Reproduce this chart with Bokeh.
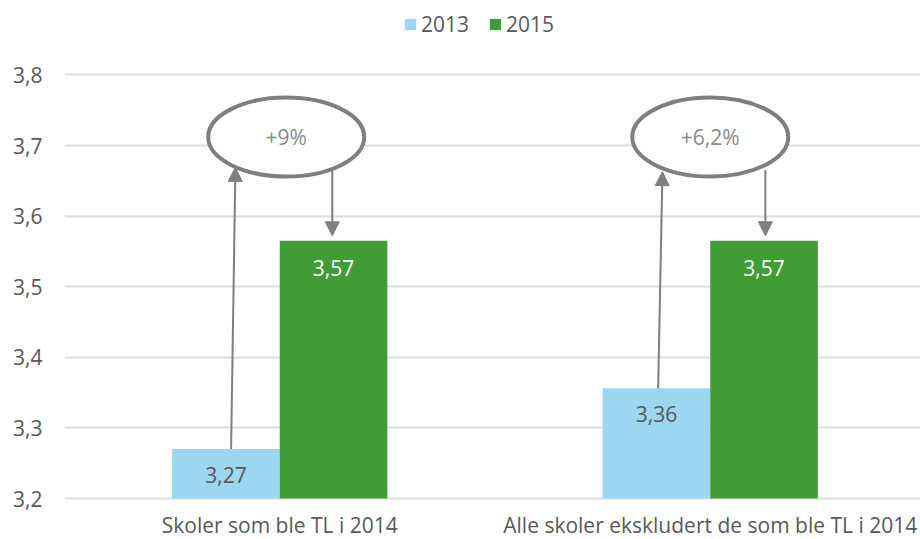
from bokeh.plotting import figure
from bokeh.models import Range1d, FixedTicker, Legend, LegendItem, Arrow, NormalHead, ColumnDataSource
from bokeh.transform import dodge
from bokeh.core.properties import value
from bokeh.embed import file_html
from bokeh.resources import INLINE

# ---- data ----
categories = ["Skoler som ble TL i 2014", "Alle skoler ekskludert de som ble TL i 2014"]
series = ["2013", "2015"]
values_2013 = [3.27, 3.356]
values_2015 = [3.565, 3.565]
labels_2013 = ["3,27", "3,36"]
labels_2015 = ["3,57", "3,57"]
changes = ["+9%", "+6,2%"]
y_ticks = [3.2, 3.3, 3.4, 3.5, 3.6, 3.7, 3.8]
y_tick_labels = ["3,2", "3,3", "3,4", "3,5", "3,6", "3,7", "3,8"]

# ---- layout / style ----
FONT = "Open Sans"
GREY = "#595959"
LINE_GREY = "#7f7f7f"
BLUE = "#9cd6f0"
GREEN = "#409d36"
FRAME_W, FRAME_H = 856, 510
PX_X = 430.5          # pixels per category
PX_Y = 706.0          # pixels per 1.0 on value axis
Y0 = y_ticks[0]
BAR_W = 0.25

x_centers = [i + 0.5 for i in range(len(categories))]

p = figure(width=920, height=539, frame_width=FRAME_W, frame_height=FRAME_H,
           output_backend="svg", toolbar_location=None,
           x_range=Range1d(0, FRAME_W / PX_X),
           y_range=Range1d(Y0 - 12 / PX_Y, Y0 + 498 / PX_Y),
           min_border_left=64, min_border_right=0, min_border_top=0, min_border_bottom=29)
p.outline_line_color = None
p.background_fill_color = "white"
p.border_fill_color = "white"

src = ColumnDataSource(dict(x=x_centers, v13=values_2013, v15=values_2015,
                            l13=labels_2013, l15=labels_2015, base=[Y0] * len(categories)))

r13 = p.vbar(x=dodge("x", -BAR_W / 2, range=p.x_range), top="v13", bottom="base", width=BAR_W,
             source=src, fill_color=BLUE, line_color=None)
r15 = p.vbar(x=dodge("x", BAR_W / 2, range=p.x_range), top="v15", bottom="base", width=BAR_W,
             source=src, fill_color=GREEN, line_color=None)

p.text(x=dodge("x", -BAR_W / 2, range=p.x_range), y="v13", text="l13", source=src,
       y_offset=26, text_align="center", text_baseline="middle",
       text_font=value(FONT), text_font_size="21px", text_color=GREY)
p.text(x=dodge("x", BAR_W / 2, range=p.x_range), y="v15", text="l15", source=src,
       y_offset=27, text_align="center", text_baseline="middle",
       text_font=value(FONT), text_font_size="21px", text_color="white")

# ---- ellipse call-outs ----
ell_dx = [0.015, 0.0]
ell_y = 3.712
ell_w = 156 / PX_X
ell_h = 79 / PX_Y
ell_src = ColumnDataSource(dict(x=[c + d for c, d in zip(x_centers, ell_dx)],
                                y=[ell_y] * len(categories), t=changes))
p.ellipse(x="x", y="y", width=ell_w, height=ell_h, source=ell_src,
          fill_color="white", line_color=LINE_GREY, line_width=4)
p.text(x="x", y="y", text="t", source=ell_src, text_align="center", text_baseline="middle",
       text_font=value(FONT), text_font_size="21px", text_color="#8a8a8a")

# ---- arrows ----
up_dx_bottom = [-0.113, -0.121]
up_dx_top = [-0.103, -0.111]
up_tip = [3.669, 3.663]
down_dx = [0.122, 0.128]
down_start = 3.665
for i, c in enumerate(x_centers):
    p.add_layout(Arrow(x_start=c + up_dx_bottom[i], y_start=values_2013[i],
                       x_end=c + up_dx_top[i], y_end=up_tip[i],
                       line_color=LINE_GREY, line_width=2,
                       end=NormalHead(size=14, fill_color=LINE_GREY, line_color=LINE_GREY)))
    p.add_layout(Arrow(x_start=c + down_dx[i], y_start=down_start,
                       x_end=c + down_dx[i], y_end=values_2015[i] + 5 / PX_Y,
                       line_color=LINE_GREY, line_width=2,
                       end=NormalHead(size=14, fill_color=LINE_GREY, line_color=LINE_GREY)))

# ---- axes ----
p.yaxis.ticker = FixedTicker(ticks=y_ticks)
p.yaxis.major_label_overrides = {t: l for t, l in zip(y_ticks, y_tick_labels)}
p.xaxis.ticker = FixedTicker(ticks=x_centers)
p.xaxis.major_label_overrides = {t: l for t, l in zip(x_centers, categories)}
for ax in (p.xaxis, p.yaxis):
    ax.axis_line_color = None
    ax.major_tick_line_color = None
    ax.minor_tick_line_color = None
    ax.major_tick_out = 0
    ax.major_tick_in = 0
    ax.major_label_text_font = FONT
    ax.major_label_text_font_size = "21px"
    ax.major_label_text_color = GREY
p.yaxis.major_label_standoff = 22
p.xaxis.major_label_standoff = 0

p.xgrid.grid_line_color = None
p.ygrid.ticker = FixedTicker(ticks=y_ticks)
p.ygrid.grid_line_color = "#dedede"
p.ygrid.grid_line_width = 2

# ---- legend ----
legend = Legend(items=[LegendItem(label=series[0], renderers=[r13]),
                       LegendItem(label=series[1], renderers=[r15])],
                orientation="horizontal", location=(339, 472),
                glyph_width=14, glyph_height=14, label_standoff=4, spacing=19,
                padding=0, margin=0, border_line_color=None, background_fill_alpha=0,
                label_text_font=FONT, label_text_font_size="21px", label_text_color=GREY)
p.add_layout(legend)

open("out.html", "w").write(file_html(p, INLINE))
